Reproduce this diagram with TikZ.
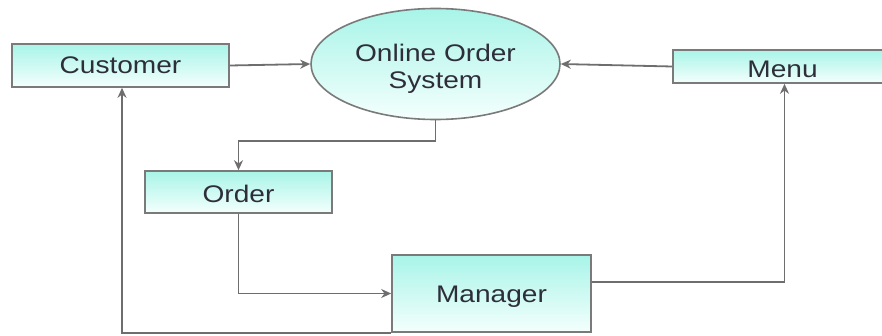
\documentclass[tikz,border=0pt]{standalone}
\usepackage{fontspec}
\setmainfont{Liberation Sans}[FakeStretch=1.17]
\usetikzlibrary{shapes.geometric,arrows.meta}
\definecolor{topc}{HTML}{A8F4E8}
\definecolor{botc}{HTML}{F4FFFD}
\definecolor{edge}{HTML}{7A7A7A}
\definecolor{wire}{HTML}{6E6E6E}
\definecolor{ink}{HTML}{2E2E3A}
\newcommand{\lowr}[2]{\raisebox{-#1}[\height][\depth]{#2}}
\tikzset{
  entity/.style={rectangle, draw=edge, line width=1.6pt, top color=topc, bottom color=botc, text=ink, font=\fontsize{24}{28}\selectfont, inner sep=0pt},
  proc/.style={ellipse, draw=edge, line width=1.6pt, top color=topc, bottom color=botc, text=ink, font=\fontsize{24}{27}\selectfont, inner sep=0pt, align=center},
  flow/.style={draw=wire, line width=1.8pt, -{Stealth[length=10pt,width=9pt]}}
}
\begin{document}
\begin{tikzpicture}[x=1pt,y=1pt]
\useasboundingbox (0,0) rectangle (882,335);
\clip (0,0) rectangle (882,335);
\node[entity, minimum width=217pt, minimum height=43pt] (customer) at (120.5,269.5) {Customer};
\node[proc, minimum width=249pt, minimum height=111pt] (oos) at (435.5,271) {\lowr{5pt}{Online Order}\\\lowr{5pt}{System}};
\node[entity, minimum width=219pt, minimum height=33pt] (menu) at (782.5,268.5) {\lowr{2.5pt}{Menu}};
\node[entity, minimum width=187pt, minimum height=42pt] (order) at (238.5,143) {\lowr{2pt}{Order}};
\node[entity, minimum width=199pt, minimum height=77pt] (manager) at (491.5,41.5) {\lowr{3pt}{Manager}};
\draw[flow] (customer.east) -- (oos.west);
\draw[flow] (menu.west) -- (oos.east);
\draw[flow] (oos.south) -- ++(0,-21) -| (order.north);
\draw[flow] (order.south) |- (manager.west);
\draw[flow] ([yshift=11.5pt]manager.east) -| ([xshift=2pt]menu.south);
\draw[flow] (manager.south west) -| ([xshift=1.5pt]customer.south);
\end{tikzpicture}
\end{document}
